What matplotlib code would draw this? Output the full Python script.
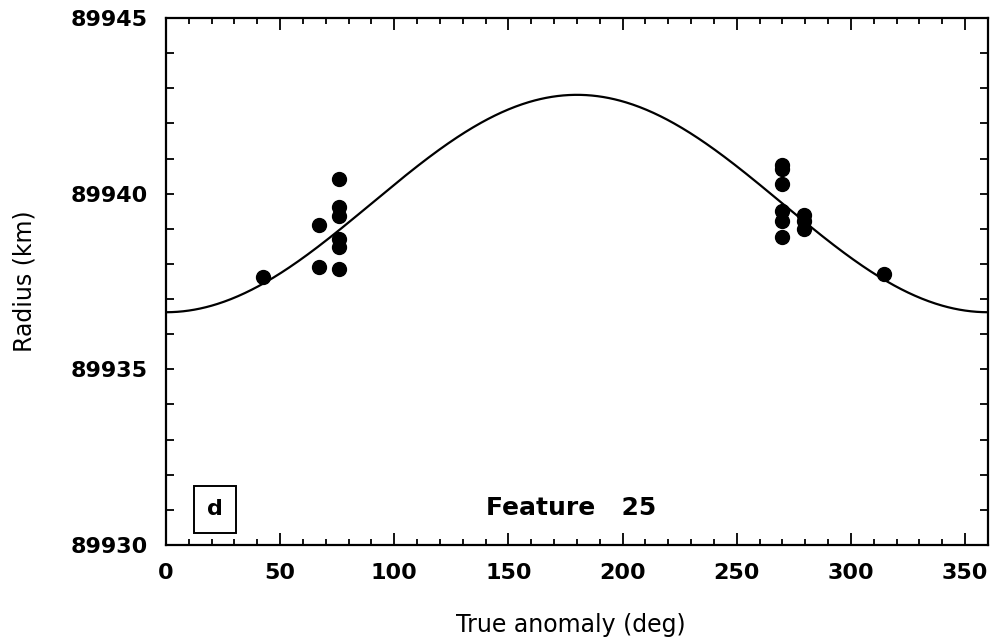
import matplotlib
matplotlib.use('Agg')
import matplotlib.pyplot as plt
import numpy as np
from matplotlib.ticker import MultipleLocator

# observed radii (km) vs true anomaly (deg)
anomaly = [42.5, 67.0, 67.0,
           75.8, 75.8, 75.8, 75.8, 75.8, 75.8,
           269.8, 269.8, 269.8, 269.8, 269.8, 269.8,
           279.5, 279.5, 279.5,
           314.5]
radius = [89937.63, 89939.10, 89937.91,
          89940.41, 89939.61, 89939.36, 89938.71, 89938.48, 89937.86,
          89940.83, 89940.69, 89940.29, 89939.50, 89939.22, 89938.76,
          89939.39, 89939.22, 89938.99,
          89937.71]

# fitted keplerian ellipse
semi_major = 89939.72
ecc = 3.44e-5


def main():
    fig = plt.figure(figsize=(10.01, 6.44), dpi=100)
    fig.patch.set_facecolor('white')
    ax = fig.add_axes([0.1658, 0.1537, 0.8212, 0.8183])

    f = np.linspace(0, 360, 721)
    r = semi_major * (1 - ecc**2) / (1 + ecc * np.cos(np.radians(f)))
    ax.plot(f, r, color='black', linewidth=1.6, zorder=2)
    ax.plot(anomaly, radius, 'o', color='black', markersize=10, zorder=3)

    ax.set_xlim(0, 360)
    ax.set_ylim(89930, 89945)
    ax.xaxis.set_major_locator(MultipleLocator(50))
    ax.xaxis.set_minor_locator(MultipleLocator(10))
    ax.yaxis.set_major_locator(MultipleLocator(5))
    ax.yaxis.set_minor_locator(MultipleLocator(1))
    ax.ticklabel_format(useOffset=False, style='plain', axis='y')

    for s in ax.spines.values():
        s.set_linewidth(1.6)

    ax.tick_params(axis='both', which='both', direction='in', top=True, right=True,
                   width=1.3, labelsize=16)
    ax.tick_params(axis='x', which='major', length=8.6, pad=13)
    ax.tick_params(axis='x', which='minor', length=4.3)
    ax.tick_params(axis='y', which='both', length=5.8, pad=13)
    for lab in ax.get_xticklabels() + ax.get_yticklabels():
        lab.set_fontweight('bold')

    ax.set_xlabel('True anomaly (deg)', fontsize=17)
    ax.set_ylabel('Radius (km)', fontsize=17)
    ax.xaxis.set_label_coords(0.493, -0.129)
    ax.yaxis.set_label_coords(-0.157, 0.5)

    ax.text(0.493, 0.057, 'Feature   25', transform=ax.transAxes, ha='center',
            va='baseline', fontsize=18, fontweight='bold')
    ax.text(0.0596, 0.068, 'd', transform=ax.transAxes, ha='center', va='center',
            fontsize=16, fontweight='bold',
            bbox=dict(boxstyle='square,pad=0.6', facecolor='white', edgecolor='black',
                      linewidth=1.4))

    fig.savefig('out.png', dpi=100)


if __name__ == "__main__":
    main()
